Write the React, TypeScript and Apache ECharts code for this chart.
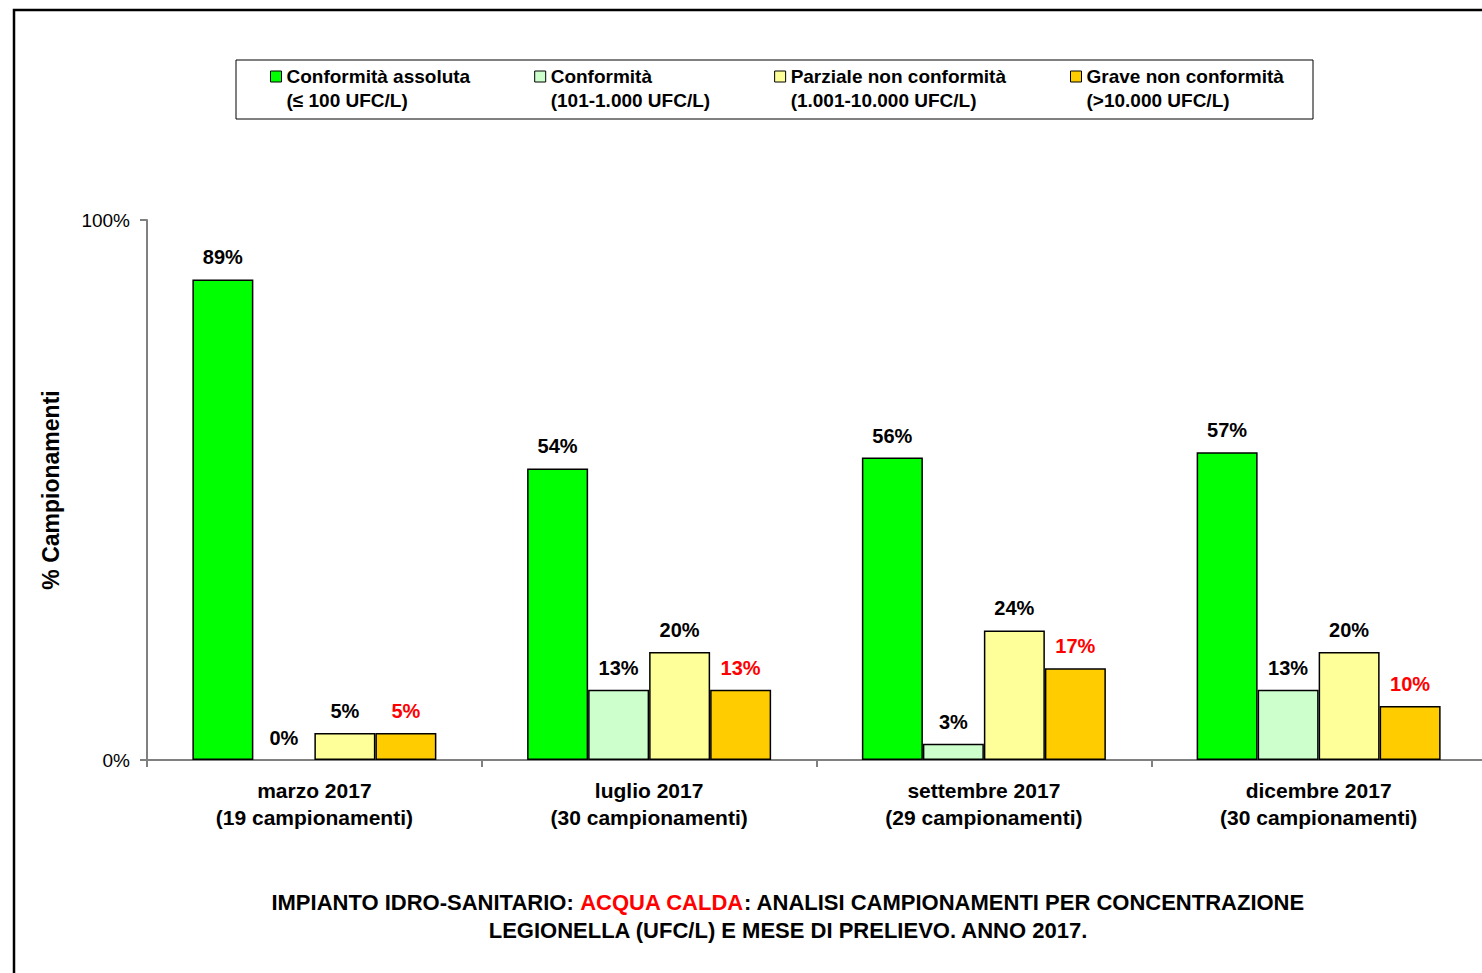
import React, { useEffect, useRef } from "react";
import * as echarts from "echarts";

const categories = [
  "marzo 2017\n(19 campionamenti)",
  "luglio 2017\n(30 campionamenti)",
  "settembre 2017\n(29 campionamenti)",
  "dicembre 2017\n(30 campionamenti)",
];
const seriesNames = [
  "Conformità assoluta",
  "Conformità",
  "Parziale non conformità",
  "Grave non conformità",
];
const seriesSubtitles = [
  "(≤ 100 UFC/L)",
  "(101-1.000 UFC/L)",
  "(1.001-10.000 UFC/L)",
  "(>10.000 UFC/L)",
];
const assoluta = [89, 54, 56, 57];
const conformita = [0, 13, 3, 13];
const parziale = [5, 20, 24, 20];
const grave = [5, 13, 17, 10];
const yTicks = [0, 100];

const FONT = "'Liberation Sans', Arial, sans-serif";
const colors = ["#00FF00", "#CCFFCC", "#FFFF99", "#FFCC00"];
const labelColors = ["#000000", "#000000", "#000000", "#FF0000"];

export default function App() {
  const ref = useRef<HTMLDivElement>(null);
  useEffect(() => {
    if (!ref.current) return;
    const chart = echarts.init(ref.current, null, { renderer: "svg" });
    const values = [assoluta, conformita, parziale, grave];
    const subMap: Record<string, string> = {};
    seriesNames.forEach((n, i) => (subMap[n] = seriesSubtitles[i]));
    chart.setOption({
      animation: false,
      backgroundColor: "#ffffff",
      textStyle: { fontFamily: FONT },
      grid: { left: 147, top: 220, width: 1339, height: 540, containLabel: false },
      legend: {
        left: 270,
        top: 40.5,
        padding: 0,
        itemGap: 64,
        itemWidth: 11,
        itemHeight: 11,
        icon: "rect",
        selectedMode: false,
        data: seriesNames,
        itemStyle: { borderColor: "#000000", borderWidth: 1 },
        formatter: (name: string) => "\n" + name + "\n" + subMap[name],
        textStyle: {
          fontFamily: FONT,
          fontSize: 19,
          fontWeight: "bold",
          color: "#000000",
          lineHeight: 24,
        },
      },
      xAxis: {
        type: "category",
        data: categories,
        axisLine: { show: true, lineStyle: { color: "#808080", width: 2 } },
        axisTick: { show: true, alignWithLabel: false, length: 7, lineStyle: { color: "#808080", width: 2 } },
        axisLabel: {
          color: "#000000",
          fontFamily: FONT,
          fontSize: 21,
          fontWeight: "bold",
          lineHeight: 27,
          margin: 17,
        },
        splitLine: { show: false },
      },
      yAxis: {
        type: "value",
        min: yTicks[0],
        max: yTicks[1],
        interval: yTicks[1] - yTicks[0],
        name: "% Campionamenti",
        nameLocation: "middle",
        nameRotate: 90,
        nameGap: 85,
        nameTextStyle: { fontFamily: FONT, fontSize: 23, fontWeight: "bold", color: "#000000" },
        axisLine: { show: true, lineStyle: { color: "#808080", width: 2 } },
        axisTick: { show: true, length: 7, lineStyle: { color: "#808080", width: 2 } },
        axisLabel: {
          formatter: "{value}%",
          color: "#000000",
          fontFamily: FONT,
          fontSize: 19,
          margin: 17,
        },
        splitLine: { show: false },
      },
      series: seriesNames.map((name, i) => ({
        name,
        type: "bar",
        data: values[i].map((v) =>
          v === 0 ? { value: v, itemStyle: { borderWidth: 0 } } : v
        ),
        barWidth: 61,
        barGap: "0%",
        itemStyle: { color: colors[i], borderColor: "#000000", borderWidth: 1.5 },
        label: {
          show: true,
          position: "top",
          distance: 12,
          formatter: "{c}%",
          color: labelColors[i],
          fontFamily: FONT,
          fontSize: 20,
          fontWeight: "bold",
        },
      })),
      graphic: [
        {
          type: "rect",
          silent: true,
          shape: { x: 14, y: 10, width: 1600, height: 1100 },
          style: { fill: "none", stroke: "#000000", lineWidth: 2.5 },
        },
        {
          type: "rect",
          silent: true,
          shape: { x: 236, y: 60, width: 1077, height: 59 },
          style: { fill: "none", stroke: "#000000", lineWidth: 1 },
        },
        {
          type: "text",
          silent: true,
          x: 788,
          y: 888,
          style: {
            text:
              "{b|IMPIANTO IDRO-SANITARIO: }{r|ACQUA CALDA}{b|: ANALISI CAMPIONAMENTI PER CONCENTRAZIONE}\n{b|LEGIONELLA (UFC/L) E MESE DI PRELIEVO. ANNO 2017.}",
            align: "center",
            verticalAlign: "top",
            rich: {
              b: { fontFamily: FONT, fontSize: 22, fontWeight: "bold", fill: "#000000", lineHeight: 28 },
              r: { fontFamily: FONT, fontSize: 22, fontWeight: "bold", fill: "#FF0000", lineHeight: 28 },
            },
          },
        },
      ],
    });
    return () => chart.dispose();
  }, []);
  return (
    <div style={{ position: "fixed", left: 0, top: 0, width: 1482, height: 973, overflow: "hidden", background: "#fff" }}>
      <div ref={ref} style={{ width: 1520, height: 1000 }} />
    </div>
  );
}
